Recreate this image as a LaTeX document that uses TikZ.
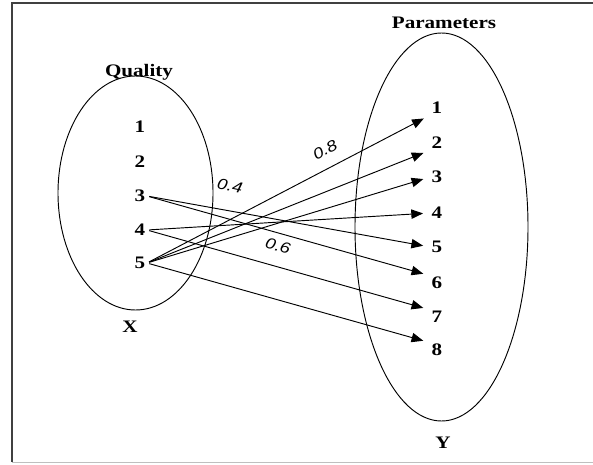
\documentclass[tikz,border=0pt]{standalone}
\usepackage{fontspec}
\setmainfont{Liberation Serif}
\newfontfamily\fontpoids{Liberation Sans}
\usetikzlibrary{arrows.meta}
\tikzset{trait/.style={line width=0.8pt},
  chiffre/.style={font=\bfseries\fontsize{15}{18}\selectfont,
    xscale=1.2, transform shape, inner sep=1pt},
  poids/.style={font=\fontpoids\itshape\fontsize{13}{14}\selectfont,
    xscale=1.2, transform shape, inner sep=0pt}}
\newcommand{\fleche}[3]{\draw[trait,-{Triangle[length=10pt,width=8pt]},
    shorten <=2pt, shorten >=6pt] (l#1.east) -- (r#2.#3)}

\begin{document}
\begin{tikzpicture}[x=0.03cm,y=0.03cm]
	\useasboundingbox (0,0) rectangle (593,464);
	\draw[line width=1pt,black!75] (593,461) -- (12,461) -- (12,2);
	\draw[line width=0.8pt,black!25] (12,2) -- (593,2);
	% ensemble X
	\draw[trait] (135.5,271) ellipse [x radius=77.5, y radius=117];
	\node[chiffre] (qual) at (139,392) {Quality};
	\node[chiffre] (setx) at (130,137) {X};
	\node[chiffre] (l1) at (140,337) {1};
	\node[chiffre] (l2) at (140,302) {2};
	\node[chiffre] (l3) at (140,268) {3};
	\node[chiffre] (l4) at (140,234) {4};
	\node[chiffre] (l5) at (140,201) {5};
	% ensemble Y
	\draw[trait] (441.5,237) ellipse [x radius=86.5, y radius=194];
	\node[chiffre] (param) at (444,441) {Parameters};
	\node[chiffre] (sety) at (443,21) {Y};
	\node[chiffre] (r1) at (437,356) {1};
	\node[chiffre] (r2) at (437,321) {2};
	\node[chiffre] (r3) at (437,287) {3};
	\node[chiffre] (r4) at (437,251) {4};
	\node[chiffre] (r5) at (437,217) {5};
	\node[chiffre] (r6) at (437,181) {6};
	\node[chiffre] (r7) at (437,147) {7};
	\node[chiffre] (r8) at (437,114) {8};
	% liens
	\fleche{3}{5}{west};
	\fleche{3}{6}{north west};
	\fleche{4}{4}{west};
	\fleche{4}{7}{north west};
	\fleche{5}{1}{south west};
	\fleche{5}{2}{south west};
	\fleche{5}{3}{west};
	\fleche{5}{8}{north west};
	\node[rotate=28,poids] (w8) at (325,314) {0.8};
	\node[rotate=-12,poids] (w4) at (230,278) {0.4};
	\node[rotate=-16,poids] (w6) at (278,218) {0.6};
\end{tikzpicture}
\end{document}
